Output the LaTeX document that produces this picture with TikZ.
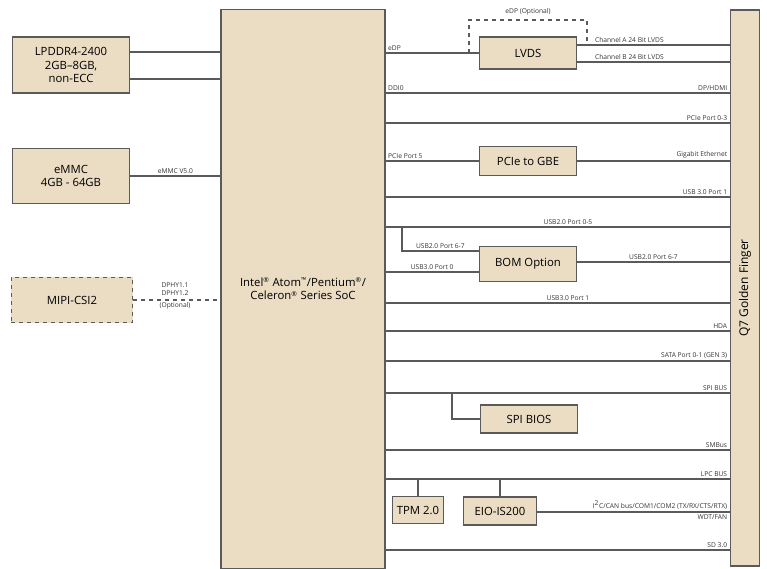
\documentclass[tikz,border=0pt]{standalone}
\usepackage{fontspec}
\setmainfont{Open Sans}
\usetikzlibrary{positioning}
\definecolor{boxfill}{HTML}{EBDCC4}
\definecolor{boxline}{HTML}{5A5A5A}

\begin{document}
\begin{tikzpicture}[x=0.75pt, y=-0.75pt, line width=0.8pt,
  blk/.style = {draw=boxline, fill=boxfill, line width=1pt, align=center, font=\fontsize{8.5}{10}\selectfont, inner sep=0pt},
  opt/.style = {blk, dashed},
  lbl/.style = {font=\fontsize{5}{6}\selectfont, inner sep=1.5pt, text=black!80},
  bus/.style = {draw=boxline}]

    \useasboundingbox (0,0) rectangle (767,568);

    % main parts
    \node[blk, minimum width=123pt, minimum height=419pt] at (303, 289) (soc) {Intel\textsuperscript{\tiny ®} Atom\textsuperscript{\tiny ™}/Pentium\textsuperscript{\tiny ®}/\\Celeron\textsuperscript{\tiny ®} Series SoC};
    \node[blk, minimum width=22pt, minimum height=417pt] at (745, 288) (gf) {};
    \node[rotate=90, font=\fontsize{9}{10}\selectfont] at (gf) {Q7 Golden Finger};

    \node[blk, minimum width=88pt, minimum height=42pt] at (71, 65) (ddr) {LPDDR4-2400\\2GB--8GB,\\non-ECC};
    \node[blk, minimum width=88pt, minimum height=41pt] at (71, 176) (emmc) {eMMC\\4GB - 64GB};
    \node[opt, minimum width=91pt, minimum height=34pt] at (72, 300) (mipi) {MIPI-CSI2};

    \node[blk, minimum width=73pt, minimum height=24pt] at (528, 53) (lvds) {LVDS};
    \node[blk, minimum width=73pt, minimum height=22pt] at (528, 161) (gbe) {PCIe to GBE};
    \node[blk, minimum width=73pt, minimum height=26pt] at (528, 264) (bom) {BOM Option};
    \node[blk, minimum width=73pt, minimum height=21pt] at (529, 419) (bios) {SPI BIOS};
    \node[blk, minimum width=38pt, minimum height=20pt] at (418, 510) (tpm) {TPM 2.0};
    \node[blk, minimum width=55pt, minimum height=21pt] at (500, 511) (eio) {EIO-IS200};

    % left side
    \draw[bus] (ddr.east |- 0,52) -- (soc.west |- 0,52);
    \draw[bus] (ddr.east |- 0,79) -- (soc.west |- 0,79);
    \draw[bus] (emmc.east) -- (soc.west |- emmc.east) node[lbl, pos=0.5, above] {eMMC V5.0};
    \draw[bus, dashed] (mipi.east) -- (soc.west |- mipi.east);
    \node[lbl, align=center] at (175, 296) {DPHY1.1\\DPHY1.2\\[3pt](Optional)};

    % LVDS
    \draw[bus] (soc.east |- lvds.west) -- (lvds.west) node[lbl, pos=0, above right] {eDP};
    \draw[bus, dashed] (469, 53) -- (469, 20) -- (587, 20) -- (587, 44);
    \node[lbl] at (528, 12) {eDP (Optional)};
    \draw[bus] (lvds.east |- 0,45) -- (gf.west |- 0,45) node[lbl, pos=0.1, above right] {Channel A 24 Bit LVDS};
    \draw[bus] (lvds.east |- 0,62) -- (gf.west |- 0,62) node[lbl, pos=0.1, above right] {Channel B 24 Bit LVDS};

    % straight buses
    \foreach \yy/\txt in {93/{DP/HDMI}, 123/{PCIe Port 0-3}, 197/{USB 3.0 Port 1}, 331/{HDA},
        361/{SATA Port 0-1 (GEN 3)}, 393/{SPI BUS}, 450/{SMBus}, 479/{LPC BUS}, 550/{SD 3.0}}
      \draw[bus] (soc.east |- 0,\yy) -- (gf.west |- 0,\yy) node[lbl, above left] {\txt};
    \node[lbl, above right] at (soc.east |- 0,93) {DDI0};
    \draw[bus] (soc.east |- 0,227) -- (gf.west |- 0,227) node[lbl, pos=0.53, above] {USB2.0 Port 0-5};
    \draw[bus] (soc.east |- 0,303) -- (gf.west |- 0,303) node[lbl, pos=0.53, above] {USB3.0 Port 1};

    % PCIe to GBE
    \draw[bus] (soc.east |- gbe.west) -- (gbe.west) node[lbl, pos=0, above right] {PCIe Port 5};
    \draw[bus] (gbe.east) -- (gf.west |- gbe.east) node[lbl, above left] {Gigabit Ethernet};

    % BOM option
    \draw[bus] (402, 227) |- (bom.west |- 0,251) node[lbl, pos=0.75, above] {USB2.0 Port 6-7};
    \draw[bus] (soc.east |- 0,272) -- (bom.west |- 0,272) node[lbl, pos=0.5, above] {USB3.0 Port 0};
    \draw[bus] (bom.east |- 0,262) -- (gf.west |- 0,262) node[lbl, pos=0.5, above] {USB2.0 Port 6-7};

    % SPI BIOS
    \draw[bus] (452, 393) |- (bios.west);

    % LPC devices
    \draw[bus] (tpm.north |- 0,479) -- (tpm.north);
    \draw[bus] (eio.north |- 0,479) -- (eio.north);
    \draw[bus] (eio.east |- 0,512) -- (gf.west |- 0,512)
      node[lbl, above left] {I\textsuperscript{2}C/CAN bus/COM1/COM2 (TX/RX/CTS/RTX)}
      node[lbl, below left] {WDT/FAN};
\end{tikzpicture}
\end{document}
